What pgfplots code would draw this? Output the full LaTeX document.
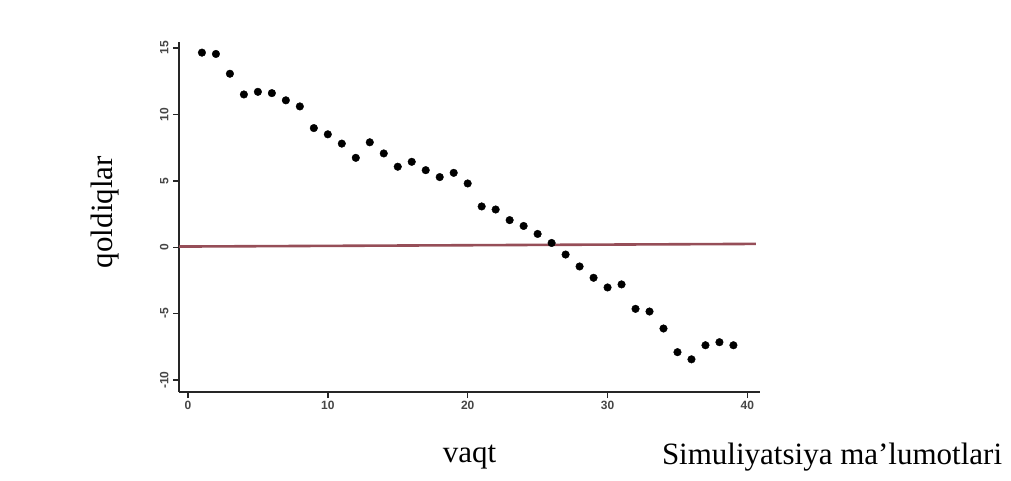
\documentclass[border=0pt]{standalone}
\usepackage{pgfplots}
\pgfplotsset{compat=1.18}
\usepackage{fontspec}
\setmainfont{Liberation Serif}
\setsansfont{Liberation Sans}
\definecolor{zeroline}{RGB}{150,78,88}
\definecolor{ticklab}{RGB}{70,70,70}
\begin{document}
\begin{tikzpicture}
\useasboundingbox (0pt,0pt) rectangle (1011pt,480pt);
\begin{axis}[
  scale only axis,
  width=581pt, height=350pt,
  at={(179pt,88pt)}, anchor=south west,
  xmin=-0.64, xmax=40.9,
  ymin=-10.9, ymax=15.45,
  axis lines*=left,
  axis line style={line width=1.6pt, black!85},
  xtick={0,10,20,30,40},
  ytick={-10,-5,0,5,10,15},
  tick align=outside,
  major tick length=6pt,
  tick style={line width=1.4pt, black!85},
  /pgf/number format/assume math mode=true,
  ticklabel style={font=\sffamily\bfseries\fontsize{12}{14}\selectfont, text=ticklab},
  yticklabel style={rotate=90, anchor=south, yshift=1pt},
  xticklabel style={anchor=north},
  xlabel={vaqt},
  ylabel={qoldiqlar},
  label style={font=\fontsize{31}{36}\selectfont},
  xlabel style={at={(axis description cs:0.50,-0.186)}, anchor=center},
  ylabel style={at={(axis description cs:-0.127,0.514)}, anchor=center},
  clip=false,
]
\addplot[zeroline, line width=2.6pt] coordinates {(-0.64,0.05) (40.6,0.25)};
\addplot[only marks, mark=*, mark size=3.8pt, black] coordinates {
(1,14.65) (2,14.55) (3,13.06) (4,11.5) (5,11.7) (6,11.6) (7,11.06) (8,10.6)
(9,8.97) (10,8.5) (11,7.8) (12,6.73) (13,7.9) (14,7.06) (15,6.06) (16,6.43)
(17,5.8) (18,5.28) (19,5.6) (20,4.8) (21,3.07) (22,2.84) (23,2.04) (24,1.6)
(25,1.0) (26,0.32) (27,-0.55) (28,-1.45) (29,-2.3) (30,-3.03) (31,-2.8)
(32,-4.64) (33,-4.84) (34,-6.12) (35,-7.9) (36,-8.44) (37,-7.38) (38,-7.15) (39,-7.38)
};
\node[font=\fontsize{31}{36}\selectfont, anchor=center] at (axis description cs:1.124,-0.186) {Simuliyatsiya ma’lumotlari};
\end{axis}
\end{tikzpicture}
\end{document}
